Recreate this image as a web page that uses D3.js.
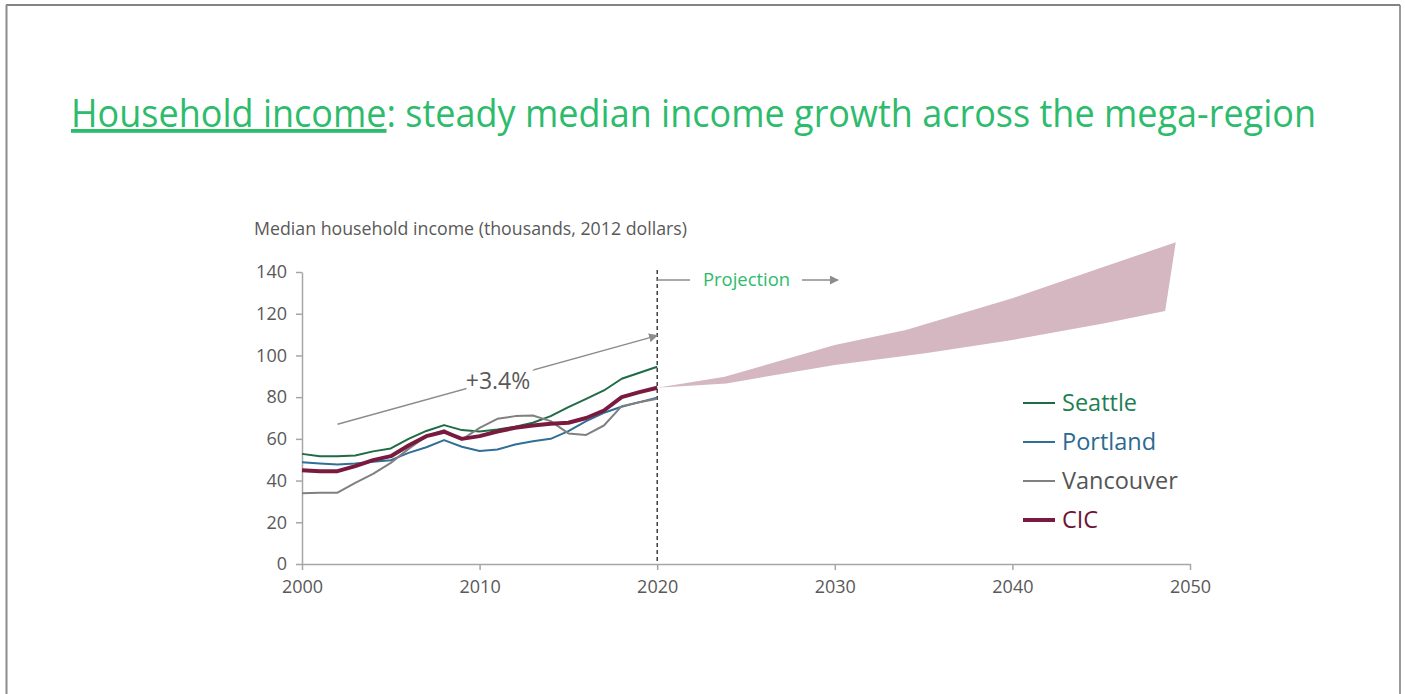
<!DOCTYPE html>
<html>
<head>
<meta charset="utf-8">
<script src="https://cdn.jsdelivr.net/npm/d3@7"></script>
<style>
  body { margin: 0; background: #fff; }
  svg { display: block; font-family: "Open Sans", "DejaVu Sans", sans-serif; }
  .axis path, .axis line { stroke: #a6a6a6; stroke-width: 1.5; }
  .axis text { fill: #595959; font-size: 18px; font-family: "Open Sans", sans-serif; }
</style>
</head>
<body>
<script>
// historic data, 2000-2020 (thousands, 2012 dollars)
var years = d3.range(2000, 2021);
var seattle = [52.8, 51.7, 51.7, 52, 54, 55.4, 60, 63.8, 66.6, 64.2, 63.5, 64.5, 65.8, 67.7, 70.9, 75.2, 79.2, 83.2, 88.8, 91.7, 94.6];
var portland = [48.8, 48.2, 47.7, 48.2, 49, 49.8, 53.3, 56, 59.4, 56.2, 54.2, 54.9, 57.3, 58.9, 60, 63.7, 68.5, 72.5, 75.4, 77.6, 79.7];
var vancouver = [33.9, 34.2, 34.2, 38.9, 43.2, 48.5, 55.2, 61.3, 64.2, 59.7, 65.3, 69.6, 70.9, 71.2, 68.5, 62.6, 61.9, 66.4, 75.7, 77.6, 79.2];
var cic = [45, 44.5, 44.5, 46.9, 49.8, 51.7, 56.8, 61.3, 63.4, 60, 61.3, 63.5, 65.3, 66.4, 67.2, 67.7, 70, 73.6, 80, 82.4, 84.5];

// projection band
var projYears = [2020, 2023.8, 2030, 2034, 2040, 2045.2, 2049.2];
var projLowYears = [2020, 2023.9, 2030, 2035.1, 2040, 2045.2, 2048.6];
var projHigh = [84.5, 89.8, 105, 112.2, 127.4, 142.6, 154.3];
var projLow = [84.5, 86.6, 95.4, 101, 107.4, 115.4, 121.3];

var yTicks = [0, 20, 40, 60, 80, 100, 120, 140];
var xTicks = [2000, 2010, 2020, 2030, 2040, 2050];
var seriesNames = ["Seattle", "Portland", "Vancouver", "CIC"];
var growthLabel = "+3.4%";
var growthFrom = [2002, 67];
var growthTo = [2020, 109.5];

var W = 1405, H = 694;
var svg = d3.select("body").append("svg").attr("width", W).attr("height", H);

// frame
svg.append("line").attr("x1", 6).attr("x2", 1400).attr("y1", 5).attr("y2", 5)
    .attr("stroke", "#5a5a5a").attr("stroke-width", 1.5);
svg.append("line").attr("x1", 6.5).attr("x2", 6.5).attr("y1", 5).attr("y2", H)
    .attr("stroke", "#8c8c8c").attr("stroke-width", 2);
svg.append("line").attr("x1", 1400).attr("x2", 1400).attr("y1", 5).attr("y2", H)
    .attr("stroke", "#7a7a7a").attr("stroke-width", 1.5);

// title
var title = svg.append("text").attr("x", 71).attr("y", 127)
    .attr("fill", "#2dbb6c").attr("font-size", 38).attr("font-weight", 500)
    .attr("textLength", 1245).attr("lengthAdjust", "spacingAndGlyphs");
title.append("tspan").attr("text-decoration", "underline").text("Household income");
title.append("tspan").text(": steady median income growth across the mega-region");

var x = d3.scaleLinear().domain([2000, 2050]).range([302, 1190]);
var y = d3.scaleLinear().domain([0, 140]).range([564, 272]);

// y label
svg.append("text").attr("x", 254).attr("y", 235)
    .attr("fill", "#595959").attr("font-size", 17.5)
    .attr("textLength", 433).attr("lengthAdjust", "spacingAndGlyphs")
    .text("Median household income (thousands, 2012 dollars)");

// projection band
var band = projYears.map(function (d, i) {
    return { xh: d, h: projHigh[i], xl: projLowYears[i], l: projLow[i] };
});
var area = d3.area()
    .x1(function (d) { return x(d.xh); })
    .y1(function (d) { return y(d.h); })
    .x0(function (d) { return x(d.xl); })
    .y0(function (d) { return y(d.l); });
svg.append("path").datum(band).attr("d", area).attr("fill", "#d4b7c1");

// axes
svg.append("g").attr("class", "axis")
    .attr("transform", "translate(302,0)")
    .call(d3.axisLeft(y).tickValues(yTicks).tickSize(6).tickPadding(9).tickSizeOuter(0));
svg.append("g").attr("class", "axis")
    .attr("transform", "translate(0,564)")
    .call(d3.axisBottom(x).tickValues(xTicks).tickFormat(d3.format("d")).tickSize(6).tickPadding(10).tickSizeOuter(0));

// 2020 divider
svg.append("line").attr("x1", x(2020)).attr("x2", x(2020)).attr("y1", 270).attr("y2", 564)
    .attr("stroke", "#222").attr("stroke-width", 1.3).attr("stroke-dasharray", "4,3");

// arrow marker
svg.append("defs").append("marker").attr("id", "arr")
    .attr("viewBox", "0 0 10 10").attr("refX", 9).attr("refY", 5)
    .attr("markerWidth", 9).attr("markerHeight", 9).attr("markerUnits", "userSpaceOnUse")
    .attr("orient", "auto")
    .append("path").attr("d", "M0,0L10,5L0,10z").attr("fill", "#8c8c8c");

// projection bracket
svg.append("line").attr("x1", x(2020)).attr("x2", 690).attr("y1", 280).attr("y2", 280)
    .attr("stroke", "#8c8c8c").attr("stroke-width", 1.5);
svg.append("text").attr("x", 703).attr("y", 286).attr("fill", "#2dbb6c")
    .attr("font-size", 18).attr("font-weight", 500)
    .attr("textLength", 87).attr("lengthAdjust", "spacingAndGlyphs").text("Projection");
svg.append("line").attr("x1", 802).attr("x2", 838).attr("y1", 280).attr("y2", 280)
    .attr("stroke", "#8c8c8c").attr("stroke-width", 1.5).attr("marker-end", "url(#arr)");

// growth arrow
svg.append("line")
    .attr("x1", x(growthFrom[0])).attr("y1", y(growthFrom[1]))
    .attr("x2", x(growthTo[0])).attr("y2", y(growthTo[1]))
    .attr("stroke", "#8c8c8c").attr("stroke-width", 1.5).attr("marker-end", "url(#arr)");
svg.append("text").attr("x", 498).attr("y", 389).attr("text-anchor", "middle")
    .attr("fill", "#595959").attr("font-size", 23)
    .attr("stroke", "#fff").attr("stroke-width", 10).attr("paint-order", "stroke")
    .text(growthLabel);

// series
var series = [
    { name: seriesNames[0], values: seattle, color: "#1e6b45", text: "#1e7f52", w: 2 },
    { name: seriesNames[1], values: portland, color: "#2f6f98", text: "#2b6a90", w: 2 },
    { name: seriesNames[2], values: vancouver, color: "#808080", text: "#555555", w: 2 },
    { name: seriesNames[3], values: cic, color: "#7a1a3e", text: "#6e1535", w: 4 }
];
var line = d3.line()
    .x(function (d, i) { return x(years[i]); })
    .y(function (d) { return y(d); });

svg.append("g").selectAll("path").data(series).enter().append("path")
    .attr("d", function (d) { return line(d.values); })
    .attr("fill", "none")
    .attr("stroke", function (d) { return d.color; })
    .attr("stroke-width", function (d) { return d.w; })
    .attr("stroke-linejoin", "round");

// legend
var leg = svg.append("g").selectAll("g").data(series).enter().append("g")
    .attr("transform", function (d, i) { return "translate(1023," + (403 + i * 39) + ")"; });
leg.append("line").attr("x1", 0).attr("x2", 32).attr("y1", 0).attr("y2", 0)
    .attr("stroke", function (d) { return d.color; })
    .attr("stroke-width", function (d) { return d.w; });
leg.append("text").attr("x", 39).attr("y", 8)
    .attr("font-size", 23.5).attr("font-weight", 500)
    .attr("fill", function (d) { return d.text; })
    .text(function (d) { return d.name; });
</script>
</body>
</html>
